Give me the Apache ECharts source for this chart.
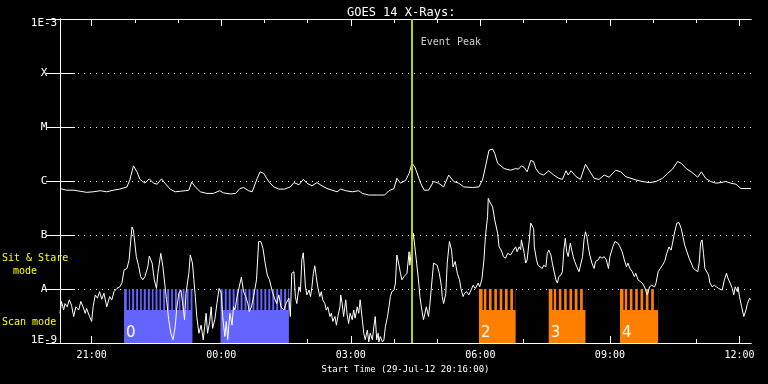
<!DOCTYPE html>
<html><head><meta charset="utf-8">
<script src="https://cdn.jsdelivr.net/npm/echarts@6/dist/echarts.min.js"></script>
<style>html,body{margin:0;padding:0;background:#000;}#c{width:768px;height:384px;}</style>
</head><body><div id="c"></div>
<script>
// ---- text ----
const chartTitle = 'GOES 14 X-Rays:';
const xTitle = 'Start Time (29-Jul-12 20:16:00)';
const yTickLabels = ['1E-9','A','B','C','M','X','1E-3'];   // log10 flux -9 .. -3
const hourTicks = [44,104,164,224,284,344,404,464,524,584,644,704,764,824,884,944]; // minutes since 20:16
const majorTicks = [44,224,404,584,764,944];
const majorTickLabels = ['21:00','00:00','03:00','06:00','09:00','12:00'];
const eventPeak = 488;       // minutes since start (04:24)
const eventLabel = 'Event Peak';
const modeLabels = ['Sit & Stare', 'mode', 'Scan mode'];

// ---- series: [minutes since 20:16, log10 flux W/m^2] ----
const longChannel = [[0,-6.14],[9,-6.17],[19,-6.17],[28,-6.19],[37,-6.21],[46,-6.2],[56,-6.18],[65,-6.2],[74,-6.17],[83,-6.15],[93,-6.11],[97,-5.98],[102,-5.72],[107,-5.83],[111,-5.97],[118,-6.04],[124,-5.96],[130,-6.04],[135,-6.06],[141,-5.96],[147,-6.06],[153,-6.15],[160,-6.2],[167,-6.19],[174,-6.18],[179,-6.17],[183,-6.02],[188,-6.11],[195,-6.2],[204,-6.23],[213,-6.23],[222,-6.18],[227,-6.22],[237,-6.24],[244,-6.23],[250,-6.14],[255,-6.12],[262,-6.18],[267,-6.2],[274,-5.95],[278,-5.83],[283,-5.86],[290,-6.01],[297,-6.11],[304,-6.15],[312,-6.15],
[320,-6.11],[325,-6.03],[332,-6.07],[338,-5.97],[343,-6.04],[350,-6.09],[357,-6.03],[364,-6.09],[371,-6.14],[378,-6.17],[385,-6.2],[390,-6.15],[397,-6.18],[406,-6.2],[415,-6.18],[420,-6.23],[429,-6.26],[441,-6.26],[451,-6.26],[457,-6.18],[464,-6.14],[468,-5.95],[473,-6.04],[480,-5.99],[485,-5.86],[489,-5.67],[493,-5.74],[496,-5.85],[501,-6.04],[506,-6.17],[512,-6.17],[519,-6.01],[526,-6.04],[533,-6.11],[540,-5.89],[547,-6.01],[554,-6.04],[561,-6.11],[573,-6.12],[582,-6.11],[587,-5.98],[591,-5.74],[596,-5.43],[601,-5.41],[604,-5.49],[608,-5.67],[617,-5.77],[626,-5.8],[633,-5.77],[637,-5.78],
[641,-5.72],[645,-5.75],[649,-5.83],[654,-5.62],[658,-5.64],[661,-5.77],[666,-5.86],[672,-5.89],[679,-5.81],[686,-5.89],[693,-5.95],[698,-5.97],[703,-5.81],[706,-5.89],[710,-5.81],[717,-5.92],[723,-5.97],[730,-5.69],[735,-5.8],[742,-5.95],[749,-5.97],[756,-5.89],[763,-5.93],[772,-5.8],[779,-5.83],[786,-5.92],[793,-5.95],[800,-5.98],[809,-6.01],[819,-6.03],[828,-6.01],[837,-5.95],[844,-5.86],[851,-5.78],[858,-5.64],[863,-5.67],[870,-5.77],[877,-5.83],[886,-5.93],[891,-5.83],[897,-5.95],[904,-6.01],[911,-6.04],[918,-6.03],[925,-6.01],[932,-6.04],[939,-6.06],[946,-6.14],[960,-6.14]];

const shortChannel = [[0,-8.45],[2,-8.23],[5,-8.39],[7,-8.27],[10,-8.33],[13,-8.2],[16,-8.3],[19,-8.51],[22,-8.33],[26,-8.39],[29,-8.23],[32,-8.33],[35,-8.45],[37,-8.36],[41,-8.51],[44,-8.6],[46,-8.33],[49,-8.11],[52,-8.17],[55,-8.05],[58,-8.19],[61,-8.08],[65,-8.33],[69,-8.14],[72,-8.2],[75,-8.05],[79,-7.99],[83,-7.96],[86,-7.89],[89,-7.65],[93,-7.62],[96,-7.46],[100,-6.85],[102,-6.91],[106,-7.4],[109,-7.56],[112,-7.77],[115,-7.83],[118,-7.77],[122,-7.59],[124,-7.39],[128,-7.52],[131,-7.83],[134,-7.99],[136,-7.71],[140,-7.34],[143,-7.59],[146,-7.96],[148,-8.2],[151,-8.57],[154,-8.82],[157,-8.94],[160,-8.7],[162,-8.39],[165,-8.08],[168,-8.02],[171,-8.33],[173,-8.57],[175,-8.08],[179,-7.71],[181,-7.37],[184,-7.52],[186,-7.83],[188,-8.14],[190,-8.51],[193,-8.82],[196,-8.67],[199,-8.94],[201,-8.7],[203,-8.45],[205,-8.82],[208,-8.6],[210,-8.33],[212,-8.73],[215,-8.57],[218,-8.27],[221,-7.99],[224,-8.08],[226,-8.51],[229,-8.88],[231,-8.6],[233,-8.94],[236,-8.45],[239,-8.67],[241,-8.33],[243,-8.39],[246,-8.14],[249,-7.96],[252,-7.78],[255,-8.05],[258,-8.14],[261,-8.27],[263,-8.42],[266,-8.33],[269,-8.14],[273,-7.83],[276,-7.12],[279,-7.12],[282,-7.25],[285,-7.52],[288,-7.74],[291,-7.83],[295,-8.05],[298,-8.17],[301,-8.27],[304,-8.11],[307,-8.33],[311,-8.39],[314,-8.27],[318,-8.17],
[320,-8.51],[322,-7.71],[325,-7.68],[327,-8.14],[329,-8.27],[332,-7.96],[334,-8.05],[336,-7.46],[338,-7.33],[339,-7.52],[341,-7.96],[343,-8.11],[346,-8.02],[348,-8.14],[350,-7.96],[352,-7.71],[354,-7.57],[356,-7.77],[358,-7.96],[361,-8.14],[363,-8.05],[365,-8.2],[368,-8.27],[370,-8.39],[372,-8.33],[375,-8.51],[377,-8.45],[379,-8.6],[382,-8.51],[384,-8.67],[386,-8.51],[389,-8.33],[390,-8.11],[392,-8.27],[394,-8.51],[397,-8.2],[399,-8.48],[401,-8.64],[403,-8.45],[406,-8.57],[408,-8.39],[410,-8.54],[413,-8.33],[415,-8.45],[417,-8.2],[420,-8.57],[422,-8.82],[424,-8.94],[427,-8.76],[429,-8.98],[431,-8.82],[434,-8.94],[436,-8.7],[438,-8.51],[440,-8.94],[442,-8.82],[443,-8.98],[445,-8.88],[448,-8.98],[450,-8.94],[452,-8.7],[455,-8.51],[457,-8.33],[459,-8.14],[461,-8.05],[464,-8.02],[466,-7.89],[468,-7.37],[471,-7.56],[473,-7.71],[475,-7.83],[478,-7.77],[480,-7.8],[482,-7.71],[485,-7.31],[486,-7.56],[488,-7.31],[491,-6.97],[493,-7.22],[495,-7.46],[498,-7.83],[500,-8.14],[502,-8.33],[505,-8.57],[507,-8.45],[509,-8.33],[512,-8.51],[514,-8.27],[516,-7.96],[519,-7.52],[521,-7.49],[524,-7.56],[527,-7.71],[530,-7.96],[531,-8.14],[533,-8.27],[536,-8.08],[538,-7.52],[541,-7.12],[544,-7.28],[546,-7.59],[549,-7.49],[552,-7.71],[555,-7.83],[557,-7.99],[560,-8.14],[562,-8.08],[565,-8.05],[568,-8.11],[570,-8.08],[574,-7.93],[577,-7.99],[581,-7.89],[583,-7.96],[586,-7.83],[589,-7.46],[591,-7.03],[594,-6.66],[595,-6.32],[598,-6.41],[601,-6.48],[604,-6.72],[608,-6.97],[610,-7.22],[613,-7.28],[616,-7.4],[619,-7.43],[622,-7.34],[626,-7.37],[630,-7.28],[633,-7.22],[635,-7.31],[638,-7.22],[640,-7.27],
[641,-7.09],[642,-7.09],[645,-7.34],[647,-7.52],[649,-7.46],[652,-7.09],[654,-6.78],[656,-6.75],[658,-6.88],[659,-7.22],[662,-7.46],[664,-7.56],[667,-7.59],[670,-7.62],[672,-7.56],[675,-7.59],[677,-7.34],[679,-7.28],[682,-7.37],[684,-7.52],[686,-7.65],[689,-7.83],[691,-7.89],[693,-7.77],[696,-7.74],[698,-7.68],[700,-7.28],[702,-7.06],[704,-7.31],[706,-7.4],[709,-7.15],[710,-7.22],[713,-7.4],[715,-7.49],[718,-7.59],[721,-7.68],[723,-7.71],[726,-7.4],[728,-7.09],[730,-6.94],[732,-7.03],[734,-7.22],[736,-7.37],[739,-7.52],[742,-7.62],[744,-7.49],[748,-7.46],[750,-7.4],[753,-7.43],[756,-7.4],[759,-7.46],[762,-7.62],[764,-7.4],[768,-7.22],[771,-7.12],[775,-7.15],[778,-7.22],[781,-7.31],[784,-7.46],[787,-7.59],[789,-7.52],[792,-7.62],[795,-7.68],[798,-7.77],[800,-7.71],[803,-7.83],[806,-7.86],[809,-7.89],[812,-7.96],[814,-7.99],[816,-8.11],[819,-7.96],[822,-7.93],[826,-7.96],[828,-7.89],[831,-7.68],[834,-7.62],[837,-7.56],[840,-7.49],[843,-7.34],[846,-7.22],[849,-7.28],[851,-7.15],[854,-6.94],[857,-6.78],[860,-6.77],[863,-6.88],[865,-7.0],[868,-7.19],[871,-7.31],[874,-7.43],[877,-7.52],[880,-7.62],[883,-7.65],[886,-7.68],[888,-7.52],[890,-7.15],[892,-7.09],[894,-7.34],[896,-7.62],[898,-7.65],[901,-7.74],[903,-7.89],[906,-7.96],[909,-7.93],[912,-7.96],[915,-7.99],[917,-7.96],[920,-8.02],[923,-7.83],[926,-7.71],[928,-7.8],[931,-7.89],[934,-7.99],[936,-8.11],[938,-7.96],[941,-8.05],[942,-7.96],[944,-8.14],[947,-8.33],[950,-8.51],[953,-8.39],[955,-8.27],[958,-8.17],[960,-8.2]];

// ---- scan-mode blocks: [start min, end min, instrument group] ----
const scanBlocks = [[89,184,0],[223,318,0],[582,633,1],[679,730,1],[778,831,1]];
const scanLabels = ['0','','2','3','4'];
// gaps in the comb (sit & stare pauses): [start min, end min]
const combGaps = [[92.8,95.6],[97.4,100.2],[103,105.8],[108.5,111.3],[113.6,116.4],[119.2,122],[124.8,127.6],[129.9,132.7],[135.4,138.2],[140.5,143.3],[146.1,148.9],[151.7,154.5],[156.8,159.6],[162.3,165.1],[167.4,170.2],[173,175.8],[178.6,181.4],
[226.1,228.9],[231.6,234.4],[237.1,239.9],[242.6,245.4],[248.1,250.9],[253.6,256.4],[259.1,261.9],[264.6,267.4],[270.1,272.9],[275.6,278.4],[281.1,283.9],[286.6,289.4],[292.1,294.9],[297.6,300.4],[303.1,305.9],[308.6,311.4],[314.1,316.9],
[587.1,588.9],[592.3,595.9],[599.6,603.4],[607,610.8],[614.5,618.1],[621.9,625.6],[629.3,633],
[684.1,686],[689.3,693],[696.6,700.4],[704,707.8],[711.5,715.1],[718.9,722.6],[726.3,730.4],
[782.8,784.6],[788,791.6],[795.3,799.1],[802.7,806.5],[810.2,813.8],[817.6,821.3],[825,831]];
const combTop = -8, combBase = -8.39, fluxFloor = -9;

// ---- styles ----
const FONT = "'DejaVu Sans Mono', monospace";
const WHITE = '#ffffff', YELLOW = '#ffff00', LINE_GREEN = '#b0d800';
const groupColors = ['#6464ff', '#ff8000'];

const chart = echarts.init(document.getElementById('c'), null, {renderer:'canvas'});
const labelByMinute = {}; majorTicks.forEach((m,i)=>labelByMinute[m]=majorTickLabels[i]);

function xAx(grid, pos, ticks, len, withLabels){
  return {type:'value', gridIndex:grid, position:pos, min:0, max:960,
    axisLine:{show:true, lineStyle:{color:WHITE, width:1}},
    axisTick:{show:true, inside:true, length:len, customValues:ticks, lineStyle:{color:WHITE, width:1}},
    axisLabel: withLabels ? {show:true, customValues:majorTicks, formatter:v=>labelByMinute[v]||'', color:WHITE, fontFamily:FONT, fontSize:10, margin:7} : {show:false},
    splitLine:{show:false},
    name: withLabels ? xTitle : '', nameLocation:'middle', nameGap:21,
    nameTextStyle:{color:WHITE, fontFamily:FONT, fontSize:9}};
}

const option = {
  backgroundColor:'#000',
  animation:false,
  title:{text:chartTitle, left:342, top:2, textStyle:{color:WHITE, fontFamily:FONT, fontSize:12, fontWeight:'normal'}},
  grid:[{left:60, right:17, top:19, bottom:41},{left:60, right:17, top:19, bottom:41}],
  xAxis:[xAx(0,'bottom',majorTicks,7,true), xAx(0,'top',majorTicks,7,false),
         xAx(1,'bottom',hourTicks,4,false), xAx(1,'top',hourTicks,4,false)],
  yAxis:[
    {type:'value', gridIndex:0, position:'left', min:-9, max:-3, interval:1,
     axisLine:{show:true, lineStyle:{color:WHITE}},
     axisTick:{show:true, inside:true, length:15, lineStyle:{color:WHITE}},
     splitLine:{show:true, lineStyle:{color:WHITE, width:1, type:[1,5]}},
     axisLabel:{color:WHITE, fontFamily:FONT, fontSize:11, align:'center', margin:16,
       formatter:v=>{const t=yTickLabels[Math.round(v)+9]; if(v===-3) return '{t|'+t+'}'; if(v===-9) return '{b|'+t+'}'; return t;},
       rich:{t:{color:WHITE, fontFamily:FONT, fontSize:11, padding:[8,0,0,0]}, b:{color:WHITE, fontFamily:FONT, fontSize:11, padding:[0,0,6,0]}}}},
    {type:'value', gridIndex:0, position:'right', min:-9, max:-3, interval:1,
     axisLine:{show:true, lineStyle:{color:WHITE}},
     axisTick:{show:true, inside:true, length:14, lineStyle:{color:WHITE}},
     axisLabel:{show:false}, splitLine:{show:false}},
    {type:'value', gridIndex:1, min:-9, max:-3, show:false}
  ],
  graphic:[
    {type:'text', left:2, top:253, style:{text:modeLabels[0], fill:YELLOW, font:'10px '+FONT}},
    {type:'text', left:13, top:266, style:{text:modeLabels[1], fill:YELLOW, font:'10px '+FONT}},
    {type:'text', left:2, top:317, style:{text:modeLabels[2], fill:YELLOW, font:'10px '+FONT}}
  ],
  series:[
    {type:'custom', xAxisIndex:0, yAxisIndex:0, data:scanBlocks, z:1,
     renderItem:(params, api)=>{
       const p0 = api.coord([api.value(0), combBase]);
       const p1 = api.coord([api.value(1), fluxFloor]);
       const t0 = api.coord([api.value(0), combTop]);
       const color = groupColors[api.value(2)];
       return {type:'group', children:[
         {type:'rect', shape:{x:t0[0], y:t0[1], width:p1[0]-t0[0], height:p1[1]-t0[1]}, style:{fill:color}},
         {type:'text', z2:5, style:{text:scanLabels[params.dataIndex], x:p0[0]+2, y:p1[1]-2, fill:WHITE, font:'15px DejaVu Sans', verticalAlign:'bottom'}}
       ]};
     }},
    {type:'custom', xAxisIndex:0, yAxisIndex:0, data:combGaps, z:2,
     renderItem:(params, api)=>{
       const a = api.coord([api.value(0), combTop]);
       const b = api.coord([api.value(1), combBase]);
       return {type:'rect', shape:{x:a[0], y:a[1], width:b[0]-a[0], height:b[1]-a[1]}, style:{fill:'#000'}};
     }},
    {type:'line', xAxisIndex:0, yAxisIndex:0, data:longChannel, showSymbol:false, z:3,
     lineStyle:{color:WHITE, width:1}},
    {type:'line', xAxisIndex:0, yAxisIndex:0, data:shortChannel, showSymbol:false, z:3,
     lineStyle:{color:WHITE, width:1},
     markLine:{silent:true, symbol:'none', label:{show:false}, lineStyle:{color:LINE_GREEN, width:2, type:'solid'}, data:[{xAxis:eventPeak}]}},
    {type:'scatter', xAxisIndex:0, yAxisIndex:0, data:[[eventPeak,-3.44]], symbolSize:1, itemStyle:{color:'rgba(0,0,0,0)'}, z:4,
     label:{show:true, position:'right', distance:9, formatter:eventLabel, color:WHITE, fontFamily:FONT, fontSize:10}}
  ]
};
chart.setOption(option);
</script></body></html>
